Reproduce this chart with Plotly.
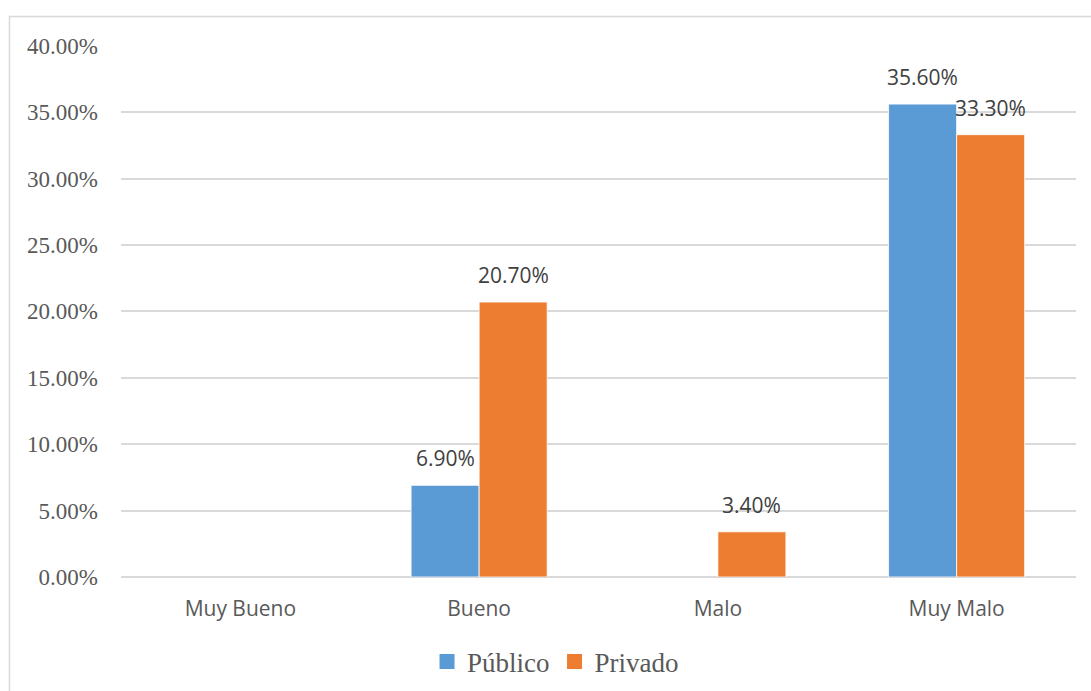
import plotly.graph_objects as go

categories = ["Muy Bueno", "Bueno", "Malo", "Muy Malo"]
publico = [None, 0.069, None, 0.356]
privado = [None, 0.207, 0.034, 0.333]
y_ticks = [0, 0.05, 0.10, 0.15, 0.20, 0.25, 0.30, 0.35, 0.40]

BLUE = "#5B9BD5"
ORANGE = "#ED7D31"
GRID = "#D9D9D9"
TEXT = "#595959"
LABEL = "#404040"
SERIF = "'Liberation Serif', 'Times New Roman', serif"
SANS = "'Open Sans', sans-serif"

fig = go.Figure()

series = [("Público", publico, BLUE, -34), ("Privado", privado, ORANGE, 34)]
for name, vals, color, _ in series:
    fig.add_trace(go.Bar(
        x=categories, y=vals, name=name, showlegend=False,
        marker=dict(color=color, line=dict(color="white", width=0.8)),
    ))

# legend entries with larger square swatches
for name, _, color, _ in series:
    fig.add_trace(go.Scatter(
        x=[None], y=[None], mode="markers", name=name,
        marker=dict(symbol="square", size=15, color=color),
    ))

# value labels above each bar
for name, vals, color, dx in series:
    for cat, v in zip(categories, vals):
        if v is None:
            continue
        fig.add_annotation(
            x=cat, y=v, xref="x", yref="y", text=f"{v*100:.2f}%",
            showarrow=False, yanchor="bottom", xshift=dx, yshift=11,
            font=dict(family=SANS, size=21, color=LABEL),
        )

# chart-area frame
fig.add_shape(type="rect", xref="paper", yref="paper",
              x0=-0.1168, x1=1.2, y0=-0.4, y1=1.0536,
              line=dict(color=GRID, width=1.5), layer="below")

fig.update_layout(
    width=1091, height=691,
    margin=dict(l=121, r=15, t=45, b=114, autoexpand=False),
    paper_bgcolor="white", plot_bgcolor="white",
    barmode="group", bargap=0.43, bargroupgap=0,
    showlegend=True,
    legend=dict(
        orientation="h", x=0.455, xanchor="center",
        yref="container", y=0.042, yanchor="middle",
        font=dict(family=SERIF, size=27, color=TEXT),
        itemwidth=30, tracegroupgap=0, bgcolor="rgba(0,0,0,0)",
    ),
    xaxis=dict(
        type="category", showgrid=False, showline=False, zeroline=False,
        tickfont=dict(family=SANS, size=21, color=TEXT),
        ticks="", ticklabelstandoff=17, automargin=False,
    ),
    yaxis=dict(
        range=[0, 0.4005], tickvals=y_ticks, tickformat=".2%",
        showgrid=True, gridcolor=GRID, gridwidth=1.5,
        zeroline=True, zerolinecolor=GRID, zerolinewidth=1.5,
        showline=False, ticks="", ticklabelstandoff=22, automargin=False,
        tickfont=dict(family=SERIF, size=23, color=TEXT),
    ),
)

fig.write_html("out.html")
